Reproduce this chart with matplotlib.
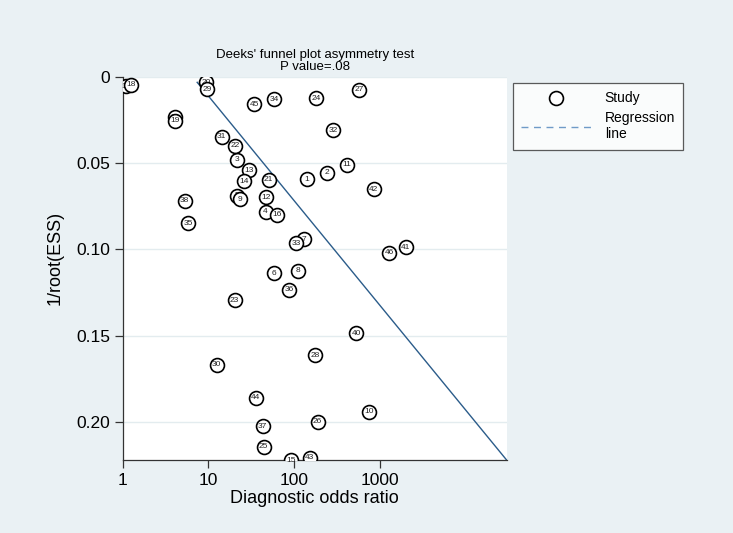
import matplotlib.pyplot as plt
from matplotlib.lines import Line2D
import numpy as np

plt.rcParams['font.family'] = ['Liberation Sans', 'DejaVu Sans']

# study labels, diagnostic odds ratio and 1/root(ESS), in drawing order
study = [39, 1, 2, 3, 4, 5, 6, 7, 8, 9, 10, 11, 12, 13, 14, 15, 16, 17, 18, 19,
         20, 21, 22, 23, 24, 25, 26, 27, 28, 29, 30, 31, 32, 33, 34, 35, 36, 37,
         38, 40, 41, 42, 43, 44, 45, 46]
dor = [4.07, 140, 243, 21.5, 46.4, 21.5, 58, 130, 110, 23.3, 743, 415, 46.8,
       29.9, 26.1, 91.6, 64, 1.09, 1.24, 4.10, 9.5, 50.3, 20.7, 20.2, 179, 44,
       188, 573, 176, 9.7, 12.5, 14.3, 288, 105, 58, 5.8, 87.5, 42.8, 5.3, 534,
       2005, 849, 152, 35.8, 34.2, 1280]
inv_ess = [0.0234, 0.0592, 0.0556, 0.0481, 0.0783, 0.0690, 0.1140, 0.0942,
           0.1124, 0.0709, 0.1942, 0.0510, 0.0699, 0.0542, 0.0606, 0.2223,
           0.0798, 0.0054, 0.0045, 0.0254, 0.0031, 0.0597, 0.0399, 0.1295,
           0.0124, 0.2144, 0.2000, 0.0074, 0.1615, 0.0070, 0.1670, 0.0347,
           0.0310, 0.0965, 0.0128, 0.0849, 0.1233, 0.2027, 0.0719, 0.1488,
           0.0987, 0.0651, 0.2208, 0.1862, 0.0157, 0.1019]

# regression line: log10(DOR) = a + b * 1/root(ESS)
reg_a = 0.818
reg_b = 16.48

bg = '#EAF1F4'
fig = plt.figure(figsize=(7.33, 5.33), dpi=100, facecolor=bg)
ax = fig.add_axes([0.1674, 0.137, 0.5239, 0.7186])
ax.set_facecolor('white')

y_line = np.array([min(inv_ess), max(inv_ess)])
x_line = 10 ** (reg_a + reg_b * y_line)
ax.plot(x_line, y_line, color='#2B5C8A', lw=1.0, zorder=1)

for i, (s, x, y) in enumerate(zip(study, dor, inv_ess)):
    ax.scatter([x], [y], s=100, facecolor='white', edgecolor='black',
               linewidth=1.2, zorder=10 + 2 * i)
    ax.text(x, y, str(s), fontsize=6, color='#222222', ha='center',
            va='center', zorder=11 + 2 * i)

ax.set_xscale('log')
ax.set_xlim(1, 10 ** (reg_a + reg_b * max(inv_ess)))
ax.set_ylim(0.2222, 0)
ax.set_xticks([1, 10, 100, 1000])
ax.set_xticklabels(['1', '10', '100', '1000'])
ax.xaxis.set_minor_locator(plt.NullLocator())
ax.set_yticks([0, 0.05, 0.10, 0.15, 0.20])
ax.set_yticklabels(['0', '0.05', '0.10', '0.15', '0.20'])
ax.yaxis.grid(True, color='#E3ECEF', lw=1.0)
ax.set_axisbelow(True)

for sp in ['top', 'right']:
    ax.spines[sp].set_visible(False)
for sp in ['left', 'bottom']:
    ax.spines[sp].set_color('#333333')
    ax.spines[sp].set_linewidth(0.9)
ax.tick_params(axis='both', labelsize=12.5, colors='#333333', length=6,
               width=0.9, labelcolor='black')
ax.tick_params(axis='y', pad=3)

ax.set_xlabel('Diagnostic odds ratio', fontsize=13, labelpad=1)
ax.set_ylabel('1/root(ESS)', fontsize=13)
ax.yaxis.set_label_coords(-0.155, 0.527)
ax.set_title("Deeks' funnel plot asymmetry test\nP value=.08", fontsize=9.5,
             linespacing=0.95, pad=5)

handles = [
    Line2D([], [], marker='o', ls='none', markersize=10, markerfacecolor='white',
           markeredgecolor='black', markeredgewidth=1.2),
    Line2D([], [], color='#6F9BC8', ls=(0, (5, 4)), lw=1.0),
]
leg = fig.legend(handles, ['Study', 'Regression\nline'], loc='upper left',
                 bbox_to_anchor=(0.700, 0.844), borderaxespad=0, fontsize=10,
                 frameon=True, fancybox=False, edgecolor='#333333',
                 handlelength=5.0, borderpad=0.6, labelspacing=0.4,
                 handletextpad=1.0)
leg.get_frame().set_linewidth(0.9)

plt.savefig('out.png', dpi=100, facecolor=bg)
